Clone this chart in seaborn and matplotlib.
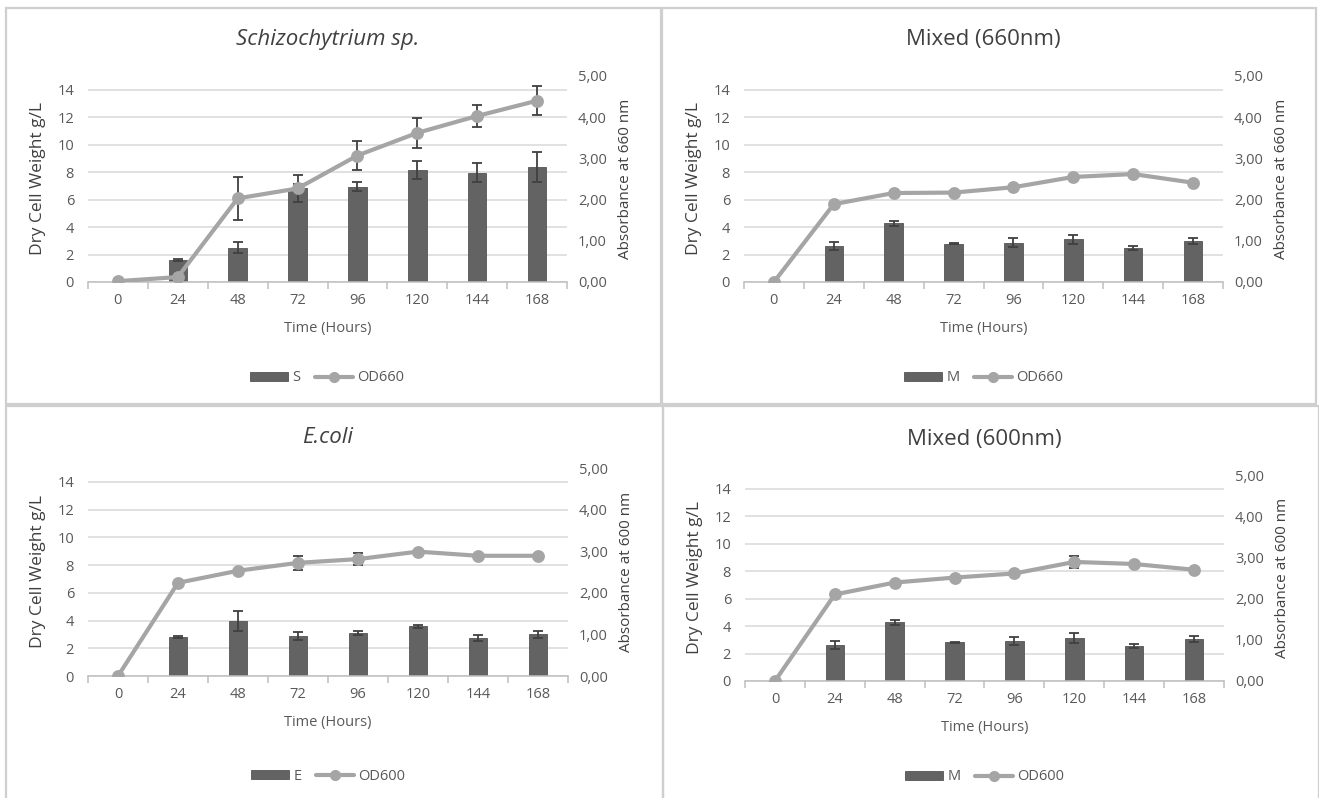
import numpy as np
import pandas as pd
import matplotlib
matplotlib.use("Agg")
import matplotlib.pyplot as plt
import seaborn as sns
from matplotlib.patches import Patch, Rectangle
from matplotlib.lines import Line2D
from matplotlib.ticker import FuncFormatter

# ---- data ----
times = ["0", "24", "48", "72", "96", "120", "144", "168"]

s_dcw = [0, 1.6, 2.5, 6.84, 6.95, 8.15, 7.95, 8.4]
s_dcw_err = [0, 0.1, 0.4, 0.3, 0.35, 0.65, 0.7, 1.1]
s_od660 = [0.02, 0.12, 2.03, 2.27, 3.07, 3.62, 4.03, 4.40]
s_od660_err = [0, 0, 0.52, 0.32, 0.36, 0.37, 0.26, 0.35]

m660_dcw = [0, 2.63, 4.26, 2.8, 2.87, 3.1, 2.5, 2.97]
m660_dcw_err = [0, 0.3, 0.2, 0.05, 0.3, 0.35, 0.15, 0.2]
m660_od = [0.0, 1.89, 2.16, 2.17, 2.30, 2.55, 2.62, 2.41]
m660_od_err = [0, 0.03, 0.03, 0.03, 0.04, 0.04, 0.03, 0.04]

e_dcw = [0, 2.82, 3.98, 2.87, 3.09, 3.57, 2.75, 3.0]
e_dcw_err = [0, 0.05, 0.7, 0.3, 0.15, 0.1, 0.2, 0.25]
e_od600 = [0.0, 2.24, 2.53, 2.72, 2.81, 2.99, 2.89, 2.89]
e_od600_err = [0, 0.02, 0.03, 0.16, 0.14, 0.03, 0.03, 0.03]

m600_dcw = [0, 2.63, 4.28, 2.82, 2.89, 3.16, 2.58, 3.04]
m600_dcw_err = [0, 0.3, 0.17, 0.03, 0.3, 0.36, 0.15, 0.22]
m600_od = [0.0, 2.10, 2.39, 2.51, 2.61, 2.89, 2.84, 2.70]
m600_od_err = [0, 0.03, 0.03, 0.03, 0.03, 0.15, 0.03, 0.03]

W, H = 1319, 798
BAR = "#636363"
LINE = "#A5A5A5"
ERR = "#404040"
TXT = "#595959"
GRID = "#D9D9D9"

sns.set_theme(style="white")
plt.rcParams['font.family'] = ['Open Sans', 'DejaVu Sans']

fig = plt.figure(figsize=(W / 100, H / 100), dpi=100)


def box(x0, y0, x1, y1):
    # pixel box (top-left origin) -> figure fraction rect
    return [x0 / W, 1 - y1 / H, (x1 - x0) / W, (y1 - y0) / H]


# panel frames
for fr in [(6, 8, 661, 404), (662, 8, 1316, 404), (6, 406, 663, 800), (663, 406, 1319, 800)]:
    fig.add_artist(Rectangle((fr[0] / W, 1 - fr[3] / H), (fr[2] - fr[0]) / W, (fr[3] - fr[1]) / H,
                             transform=fig.transFigure, fill=False, edgecolor="#CFCFCF", lw=1.6))


def panel(rect, title, italic, dcw, dcw_err, od, od_err, bar_lab, od_lab, nm, title_y, leg_y):
    ax = fig.add_axes(box(*rect))
    df = pd.DataFrame({"time": times, "dcw": dcw, "od": od})
    pos = np.arange(len(times))

    sns.barplot(data=df, x="time", y="dcw", order=times, color=BAR, width=0.31,
                saturation=1, edgecolor="#555555", linewidth=0.6, errorbar=None, ax=ax, zorder=2)
    err_mask = np.array(dcw) > 0
    ax.errorbar(pos[err_mask], np.array(dcw)[err_mask], yerr=np.array(dcw_err)[err_mask],
                fmt="none", ecolor=ERR, elinewidth=1.3, capsize=3.5, capthick=1.3, zorder=3)

    ax.set_ylim(0, 15)
    ax.set_yticks(range(0, 15, 2))
    ax.set_xlim(-0.5, len(times) - 0.5)
    ax.yaxis.grid(True, color=GRID, lw=1.1)
    ax.set_axisbelow(True)
    for sp in ["top", "left", "right"]:
        ax.spines[sp].set_visible(False)
    ax.spines["bottom"].set_color("#BFBFBF")
    ax.spines["bottom"].set_linewidth(1.1)
    ax.set_xticks(np.arange(-0.5, len(times)), minor=True)
    ax.tick_params(axis="x", which="minor", length=5, color="#BFBFBF", width=1.1, bottom=True)
    ax.tick_params(axis="x", which="major", length=0, pad=8, labelsize=10.5, labelcolor=TXT)
    ax.tick_params(axis="y", length=0, pad=10, labelsize=10.5, labelcolor=TXT)
    ax.set_xlabel("Time (Hours)", fontsize=10.5, color=TXT, labelpad=9)
    ax.set_ylabel("Dry Cell Weight g/L", fontsize=12.5, color="#404040", labelpad=8)
    cx = (rect[0] + rect[2]) / 2 / W
    fig.text(cx, 1 - title_y / H, title, ha="center", va="center", fontsize=16,
             color="#404040", style="italic" if italic else "normal")

    ax2 = ax.twinx()
    sns.pointplot(data=df, x="time", y="od", order=times, color=LINE, markers="o",
                  errorbar=None, ax=ax2, linewidth=3, markersize=7)
    ax2.errorbar(pos, od, yerr=od_err, fmt="none", ecolor=ERR, elinewidth=1.3,
                 capsize=3.5, capthick=1.3, zorder=1)
    ax2.set_ylim(0, 5)
    ax2.set_yticks(range(0, 6))
    ax2.yaxis.set_major_formatter(FuncFormatter(lambda v, p: f"{v:.2f}".replace(".", ",")))
    ax2.set_xlim(-0.5, len(times) - 0.5)
    for sp in ax2.spines.values():
        sp.set_visible(False)
    ax2.tick_params(axis="y", length=0, pad=8, labelsize=10.5, labelcolor=TXT)
    ax2.set_ylabel(f"Absorbance at {nm} nm", fontsize=11, color="#404040", labelpad=8)
    ax2.set_xlabel("")
    ax2.grid(False)

    handles = [Patch(facecolor=BAR, edgecolor="#555555", lw=0.6, label=bar_lab),
               Line2D([0], [0], color=LINE, lw=3, marker="o", markersize=7, label=od_lab)]
    fig.legend(handles=handles, loc="center", bbox_to_anchor=(cx, 1 - leg_y / H),
               bbox_transform=fig.transFigure, ncol=2, frameon=False, fontsize=10.5,
               handlelength=2.6, handleheight=0.6, columnspacing=1.0, handletextpad=0.3,
               labelcolor=TXT)
    return ax


panel((88, 76, 567, 282), "Schizochytrium sp.", True, s_dcw, s_dcw_err, s_od660, s_od660_err,
      "S", "OD660", 660, 40, 378)
panel((744, 76, 1223, 282), "Mixed (660nm)", False, m660_dcw, m660_dcw_err, m660_od, m660_od_err,
      "M", "OD660", 660, 40, 378)
panel((88, 468, 568, 676), "E.coli", True, e_dcw, e_dcw_err, e_od600, e_od600_err,
      "E", "OD600", 600, 437, 776)
panel((745, 475, 1224, 681), "Mixed (600nm)", False, m600_dcw, m600_dcw_err, m600_od, m600_od_err,
      "M", "OD600", 600, 439, 777)

fig.savefig("out.png", dpi=100)
